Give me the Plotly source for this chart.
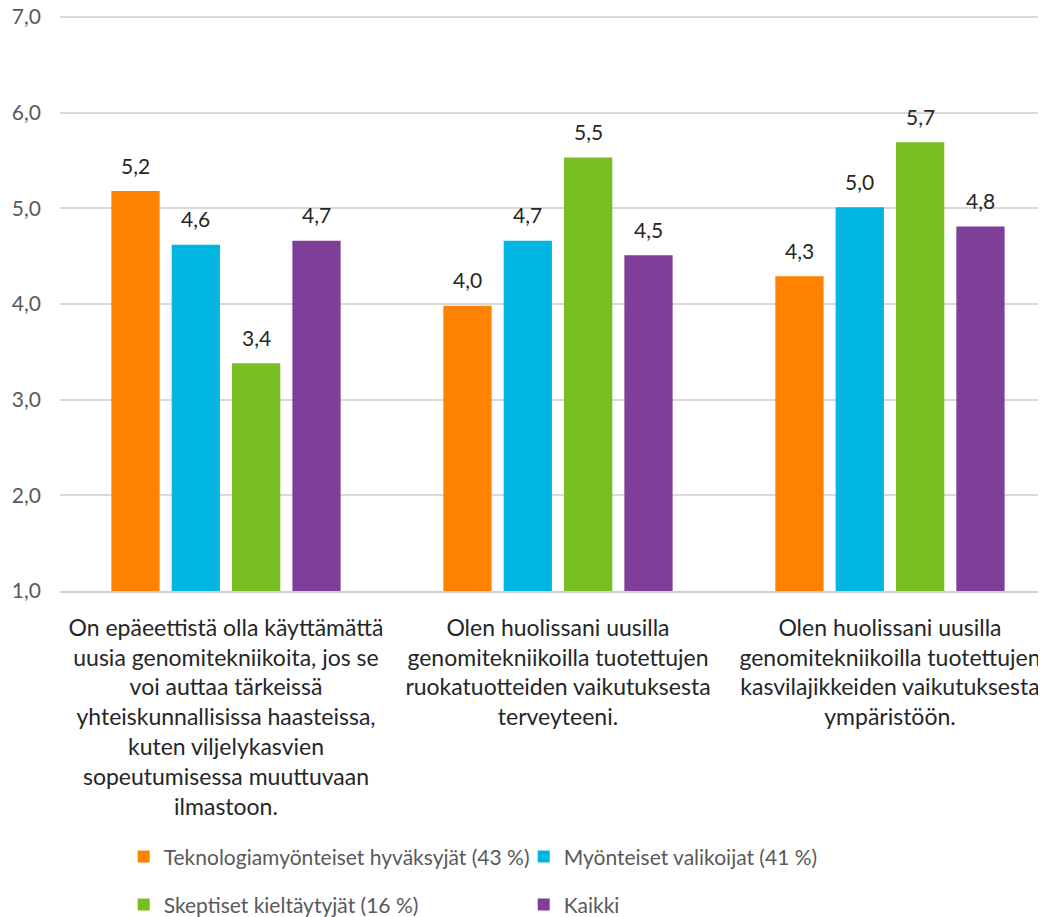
import plotly.graph_objects as go

categories = [
    "On epäeettistä olla käyttämättä<br>uusia genomitekniikoita, jos se<br>voi auttaa tärkeissä<br>yhteiskunnallisissa haasteissa,<br>kuten viljelykasvien<br>sopeutumisessa muuttuvaan<br>ilmastoon.",
    "Olen huolissani uusilla<br>genomitekniikoilla tuotettujen<br>ruokatuotteiden vaikutuksesta<br>terveyteeni.",
    "Olen huolissani uusilla<br>genomitekniikoilla tuotettujen<br>kasvilajikkeiden vaikutuksesta<br>ympäristöön.",
]
series_names = [
    "Teknologiamyönteiset hyväksyjät (43 %)",
    "Myönteiset valikoijat (41 %)",
    "Skeptiset kieltäytyjät (16 %)",
    "Kaikki",
]
teknologia = [5.18, 3.98, 4.29]
myonteiset = [4.62, 4.66, 5.01]
skeptiset = [3.38, 5.53, 5.69]
kaikki = [4.66, 4.51, 4.81]
series_values = [teknologia, myonteiset, skeptiset, kaikki]
colors = ["#FF8200", "#00B5E2", "#78BE20", "#7F3F98"]
legend_ids = ["legend", "legend", "legend2", "legend2"]

FONT = "Lato"
bargap = 0.273
n = len(series_names)

fig = go.Figure()
for name, vals, col, lg in zip(series_names, series_values, colors, legend_ids):
    fig.add_trace(go.Bar(
        x=categories, y=vals, name=name, marker=dict(color=col, line=dict(width=0)),
        legend=lg, hoverinfo="y",
    ))

slot = (1 - bargap) / n
annotations = []
for i, vals in enumerate(series_values):
    for g, v in enumerate(vals):
        annotations.append(dict(
            x=g + (i - (n - 1) / 2) * slot, y=v, xref="x", yref="y",
            text=f"{v:.1f}".replace(".", ","), showarrow=False,
            yanchor="middle", yshift=26,
            font=dict(family=FONT, size=21, color="#262626"),
        ))

legend_common = dict(
    orientation="h", xanchor="left", yanchor="middle",
    entrywidth=355, entrywidthmode="pixels",
    font=dict(family=FONT, size=21, color="#595959"),
    bgcolor="rgba(0,0,0,0)", itemclick=False, itemwidth=30,
)

fig.update_layout(
    width=1038, height=909,
    margin=dict(l=52, r=0, t=6.9, b=326, autoexpand=False),
    paper_bgcolor="white", plot_bgcolor="white",
    barmode="group", bargap=bargap, bargroupgap=0.2,
    separators=", ",
    showlegend=True,
    annotations=annotations,
    legend=dict(x=0.0646, y=-0.4617, **legend_common),
    legend2=dict(x=0.0646, y=-0.545, **legend_common),
)
fig.update_xaxes(
    type="category", range=[-0.5, 2.47], automargin=False,
    showline=True, linecolor="#D0D0D0", linewidth=2,
    ticks="", ticklabelstandoff=15, ticklabeloverflow="allow",
    tickfont=dict(family=FONT, size=23, color="#262626"),
    showgrid=False, zeroline=False,
)
fig.update_yaxes(
    range=[1, 7.02], dtick=1, tick0=1, tickformat=".1f", automargin=False,
    showgrid=True, gridcolor="#D9D9D9", gridwidth=1.5,
    zeroline=False, showline=False, ticks="", ticklabelstandoff=18,
    ticklabeloverflow="allow",
    tickfont=dict(family=FONT, size=21, color="#595959"),
)

fig.write_html("out.html")
